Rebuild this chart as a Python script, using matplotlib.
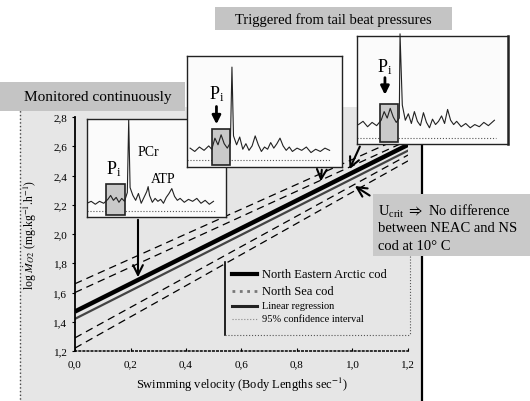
import numpy as np
import matplotlib.pyplot as plt
from matplotlib.patches import Rectangle

plt.rcParams['font.family'] = ['Liberation Serif', 'DejaVu Serif']
plt.rcParams['mathtext.fontset'] = 'stix'

# regression lines read at x = 0.0 and 1.2 body lengths/s
vel_ends = [0.0, 1.2]
neac_line = [1.47, 2.61]
ns_line = [1.42, 2.57]
ci_lines = [[1.66, 2.68], [1.60, 2.64], [1.29, 2.54], [1.22, 2.50]]

xticks = [0.0, 0.2, 0.4, 0.6, 0.8, 1.0, 1.2]
xtick_labels = ['0,0', '0,2', '0,4', '0,6', '0,8', '1,0', '1,2']
yticks = [1.2, 1.4, 1.6, 1.8, 2.0, 2.2, 2.4, 2.6, 2.8]
ytick_labels = ['1,2', '1,4', '1,6', '1,8', '2,0', '2,2', '2,4', '2,6', '2,8']

# NMR spectra in the insets (relative shift, relative intensity)
spec1_x = [0.00, 0.03, 0.06, 0.09, 0.12, 0.15, 0.17, 0.19, 0.21, 0.23, 0.25, 0.27, 0.29, 0.30,
           0.31, 0.33, 0.35, 0.37, 0.39, 0.41, 0.43, 0.44, 0.45, 0.47, 0.49, 0.51, 0.53, 0.55,
           0.57, 0.59, 0.61, 0.63, 0.65, 0.67, 0.70, 0.73, 0.76, 0.79, 0.82, 0.85, 0.88, 0.91]
spec1_y = [0.14, 0.16, 0.13, 0.16, 0.14, 0.18, 0.22, 0.17, 0.20, 0.15, 0.19, 0.16, 0.25, 0.99,
           0.30, 0.22, 0.17, 0.24, 0.14, 0.20, 0.26, 0.31, 0.22, 0.15, 0.19, 0.16, 0.18, 0.14,
           0.20, 0.24, 0.29, 0.21, 0.17, 0.19, 0.15, 0.18, 0.16, 0.19, 0.14, 0.17, 0.13, 0.16]
spec2_x = [0.02, 0.05, 0.08, 0.11, 0.14, 0.16, 0.18, 0.20, 0.22, 0.24, 0.26, 0.28, 0.29, 0.30,
           0.32, 0.34, 0.36, 0.38, 0.40, 0.42, 0.44, 0.46, 0.48, 0.50, 0.52, 0.54, 0.56, 0.58,
           0.60, 0.62, 0.64, 0.66, 0.68, 0.71, 0.74, 0.77, 0.80, 0.83, 0.86, 0.89, 0.92]
spec2_y = [0.17, 0.14, 0.18, 0.15, 0.19, 0.16, 0.26, 0.20, 0.29, 0.21, 0.17, 0.22, 0.90, 0.28,
           0.20, 0.27, 0.16, 0.21, 0.15, 0.19, 0.28, 0.20, 0.14, 0.18, 0.16, 0.22, 0.17, 0.21,
           0.26, 0.19, 0.15, 0.18, 0.14, 0.17, 0.15, 0.18, 0.13, 0.16, 0.14, 0.17, 0.15]
spec3_x = [0.01, 0.04, 0.07, 0.10, 0.13, 0.16, 0.18, 0.20, 0.22, 0.24, 0.26, 0.28, 0.285, 0.30,
           0.32, 0.34, 0.36, 0.38, 0.40, 0.42, 0.44, 0.46, 0.48, 0.50, 0.52, 0.54, 0.56, 0.58,
           0.60, 0.62, 0.64, 0.66, 0.69, 0.72, 0.75, 0.78, 0.81, 0.84, 0.87, 0.91]
spec3_y = [0.18, 0.21, 0.16, 0.20, 0.17, 0.22, 0.30, 0.24, 0.33, 0.25, 0.20, 0.24, 1.02, 0.36,
           0.22, 0.28, 0.19, 0.30, 0.21, 0.17, 0.29, 0.20, 0.15, 0.23, 0.18, 0.21, 0.26, 0.19,
           0.32, 0.22, 0.18, 0.21, 0.16, 0.19, 0.15, 0.18, 0.16, 0.20, 0.17, 0.22]

W, H = 530, 402


def px_axes(fig, x0, y0, x1, y1, z):
    a = fig.add_axes([x0 / W, 1 - y1 / H, (x1 - x0) / W, (y1 - y0) / H])
    a.set_zorder(z)
    return a


fig = plt.figure(figsize=(5.3, 4.02), dpi=100, facecolor='white')

# background layer (pixel coords)
bg = px_axes(fig, 0, 0, W, H, 0)
bg.set_xlim(0, W)
bg.set_ylim(H, 0)
bg.axis('off')
bg.add_patch(Rectangle((20, 108), 402, 300, facecolor='#e6e6e6', edgecolor='none'))
bg.plot([20, 20], [108, 402], color='#444444', lw=1, ls=':')
bg.plot([422, 422], [143, 402], color='black', lw=1.6)

# main plot
ax = px_axes(fig, 75, 118, 408, 352, 1)
ax.patch.set_alpha(0)
for yy in ci_lines:
    ax.plot(vel_ends, yy, color='black', lw=0.9, dashes=(6, 4))
ax.plot(vel_ends, ns_line, color='#444444', lw=1.6)
ax.plot(vel_ends, neac_line, color='black', lw=3.2, solid_capstyle='butt')
ax.set_xlim(0, 1.2)
ax.set_ylim(1.2, 2.8)
ax.set_xticks(xticks)
ax.set_xticklabels(xtick_labels, fontsize=8)
ax.set_yticks(yticks)
ax.set_yticklabels(ytick_labels, fontsize=8)
ax.tick_params(axis='x', direction='in', length=2.5, width=0.8, pad=6)
ax.tick_params(axis='y', direction='out', length=2.5, width=0.8, pad=3)
ax.spines['top'].set_visible(False)
ax.spines['right'].set_visible(False)
ax.spines['left'].set_linewidth(1.3)
ax.spines['bottom'].set_linestyle(':')
ax.spines['bottom'].set_linewidth(1.1)
ax.set_xlabel('Swimming velocity (Body Lengths sec$^{-1}$)', fontsize=9, labelpad=5)
ax.set_ylabel(r'log $\dot{M}_{O2}$ (mg.kg$^{-1}$.h$^{-1}$)', fontsize=8.5, labelpad=10)


def inset(box, sx, sy, pi_box, peak_clip=True):
    a = px_axes(fig, *box, 2)
    a.set_xlim(0, 1)
    a.set_ylim(0, 1)
    a.set_xticks([])
    a.set_yticks([])
    a.set_facecolor('#fbfbfb')
    for s in a.spines.values():
        s.set_linewidth(1.0)
        s.set_color('#222222')
    a.plot([0.0, 0.92], [0.06, 0.06], color='#555555', lw=0.8, ls=':')
    a.add_patch(Rectangle((pi_box[0], 0.02), pi_box[1] - pi_box[0], pi_box[2] - 0.02,
                          facecolor='#c9c9c9', edgecolor='#222222', lw=1.2, zorder=2))
    a.plot(sx, sy, color='#222222', lw=0.8, zorder=3, clip_on=peak_clip)
    return a


in1 = inset((87, 120, 226, 218), spec1_x, spec1_y, (0.14, 0.27, 0.34))
in1.text(0.19, 0.50, 'P$_\\mathregular{i}$', fontsize=13, ha='center', va='center')
in1.text(0.44, 0.67, 'PCr', fontsize=10, ha='center', va='center')
in1.text(0.55, 0.39, 'ATP', fontsize=10, ha='center', va='center')

in2 = inset((187, 57, 342, 168), spec2_x, spec2_y, (0.16, 0.28, 0.34))
in2.text(0.19, 0.66, 'P$_\\mathregular{i}$', fontsize=13, ha='center', va='center')
in2.annotate('', xy=(0.19, 0.36), xytext=(0.19, 0.57),
             arrowprops=dict(arrowstyle='-|>,head_length=0.5,head_width=0.25', color='black', lw=2))

in3 = inset((357, 37, 508, 145), spec3_x, spec3_y, (0.15, 0.27, 0.37), peak_clip=False)
in3.text(0.185, 0.72, 'P$_\\mathregular{i}$', fontsize=13, ha='center', va='center')
in3.annotate('', xy=(0.185, 0.43), xytext=(0.185, 0.64),
             arrowprops=dict(arrowstyle='-|>,head_length=0.5,head_width=0.25', color='black', lw=2))
in3.spines['right'].set_linewidth(1.8)

# overlay: label boxes, arrows, legend
top = px_axes(fig, 0, 0, W, H, 3)
top.set_xlim(0, W)
top.set_ylim(H, 0)
top.axis('off')
top.patch.set_alpha(0)

top.add_patch(Rectangle((0, 83), 185, 29, facecolor='#c4c4c4', edgecolor='none'))
top.text(98, 98, 'Monitored continuously', fontsize=11, ha='center', va='center')
top.add_patch(Rectangle((215, 8), 237, 23, facecolor='#c4c4c4', edgecolor='none'))
top.text(333, 20, 'Triggered from tail beat pressures', fontsize=10.5, ha='center', va='center')
top.add_patch(Rectangle((373, 195), 160, 62, facecolor='#c9c9c9', edgecolor='none'))
top.text(378, 211, 'U$_{\\mathregular{crit}}$ $\\Rightarrow$ No difference', fontsize=10.5, va='center')
top.text(378, 229, 'between NEAC and NS', fontsize=10.5, va='center')
top.text(378, 247, 'cod at 10\u00b0 C', fontsize=10.5, va='center')

arr = dict(arrowstyle='->,head_length=0.7,head_width=0.35', color='black', lw=1.5)
top.annotate('', xy=(0.227, np.interp(0.227, vel_ends, neac_line)), xycoords=ax.transData,
             xytext=(138, 218), textcoords=top.transData, arrowprops=arr)
top.annotate('', xy=(0.885, np.interp(0.885, vel_ends, neac_line) + 0.03), xycoords=ax.transData,
             xytext=(322, 168), textcoords=top.transData, arrowprops=arr)
top.annotate('', xy=(0.985, np.interp(0.985, vel_ends, neac_line) + 0.02), xycoords=ax.transData,
             xytext=(361, 145), textcoords=top.transData, arrowprops=arr)
top.annotate('', xy=(1.0, np.interp(1.0, vel_ends, ns_line) - 0.04), xycoords=ax.transData,
             xytext=(372, 198), textcoords=top.transData, arrowprops=arr)

# legend drawn by hand
top.plot([225, 225], [263, 336], color='black', lw=1.2)
top.plot([225, 410], [336, 336], color='#555555', lw=0.8, ls=':')
top.plot([410, 410], [257, 336], color='#555555', lw=0.8, ls=':')
leg_rows = [
    ('North Eastern Arctic cod', dict(color='black', lw=3), 9, 275),
    ('North Sea cod', dict(color='#777777', lw=2, ls=':'), 9, 292),
    ('Linear regression', dict(color='#222222', lw=2.2), 7.5, 307),
    ('95% confidence interval', dict(color='#888888', lw=0.8, ls=':'), 7.5, 320),
]
for label, style, fs, yy in leg_rows:
    top.plot([232, 257], [yy, yy], **style)
    top.text(262, yy, label, fontsize=fs, va='center')

fig.savefig('out.png', dpi=100)
